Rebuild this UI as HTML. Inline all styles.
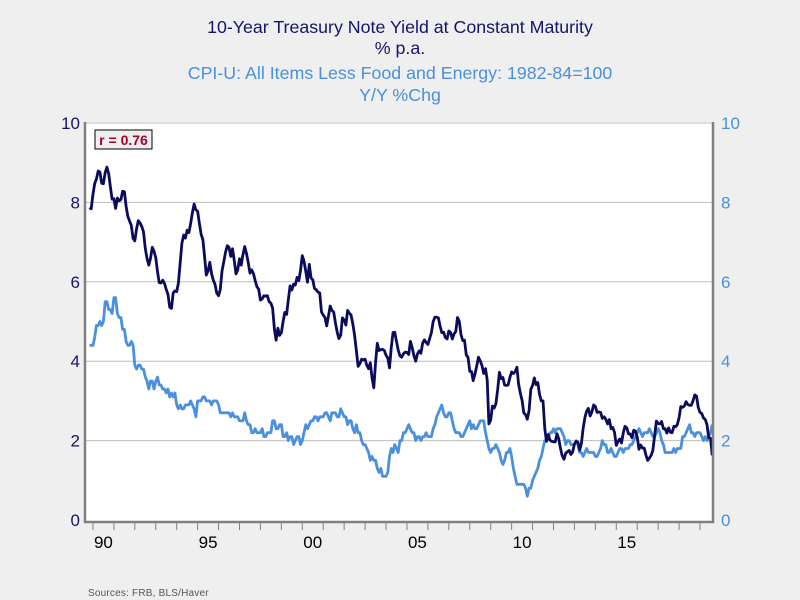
<!DOCTYPE html>
<html><head><meta charset="utf-8"><style>
body{margin:0;background:#efefef;}
svg{display:block;font-family:"Liberation Sans",sans-serif;}
</style></head><body>
<svg id="chart" width="800" height="600" viewBox="0 0 800 600">
<rect x="0" y="0" width="800" height="600" fill="#efefef"/>
<g text-anchor="middle" font-size="17.8">
<text x="400" y="33" fill="#14146b">10-Year Treasury Note Yield at Constant Maturity</text>
<text x="400" y="54" fill="#14146b">% p.a.</text>
<text x="400" y="79" fill="#4a90dc">CPI-U: All Items Less Food and Energy: 1982-84=100</text>
<text x="400" y="101" fill="#4a90dc">Y/Y %Chg</text>
</g>
<rect x="85" y="122" width="628" height="400" fill="#ffffff"/>
<g id="grid"></g>
<g id="lines"></g>
<g id="frame"></g>
<g id="axes"></g>
<g>
<rect x="95" y="130" width="57" height="19" fill="#efefef" stroke="#000" stroke-width="1"/>
<text x="123.5" y="145" text-anchor="middle" font-size="14" font-weight="bold" fill="#a3002b">r = 0.76</text>
</g>
<text x="88" y="596" font-size="10" fill="#555" letter-spacing="0.2">Sources:  FRB, BLS/Haver</text>
</svg>
<script>
const startYear = 1989 + 10/12; // Nov 1989 monthly
const treasury10y = [7.87,7.84,
8.21,8.47,8.59,8.79,8.76,8.48,8.47,8.75,8.89,8.72,8.39,8.08,
8.09,7.85,8.11,8.04,8.07,8.28,8.27,7.90,7.65,7.53,7.42,7.09,
7.03,7.34,7.54,7.48,7.39,7.26,6.84,6.59,6.42,6.59,6.87,6.77,
6.60,6.26,5.98,5.97,6.04,5.96,5.81,5.68,5.36,5.33,5.72,5.77,
5.75,5.97,6.48,6.97,7.18,7.10,7.30,7.24,7.46,7.74,7.96,7.81,
7.78,7.47,7.20,7.06,6.63,6.17,6.28,6.49,6.20,6.04,5.93,5.71,
5.65,5.81,6.27,6.51,6.74,6.91,6.87,6.64,6.83,6.53,6.20,6.30,
6.58,6.42,6.69,6.89,6.71,6.49,6.22,6.30,6.21,6.03,5.88,5.81,
5.54,5.57,5.65,5.64,5.65,5.50,5.46,5.34,4.81,4.53,4.83,4.65,
4.72,5.00,5.23,5.18,5.54,5.90,5.79,5.94,5.92,6.11,6.03,6.28,
6.66,6.52,6.26,5.99,6.44,6.10,6.05,5.83,5.80,5.74,5.72,5.24,
5.16,5.10,4.89,5.14,5.39,5.28,5.24,4.97,4.73,4.57,4.65,5.09,
5.04,4.91,5.28,5.21,5.16,4.93,4.65,4.26,3.87,3.94,4.05,4.03,
4.05,3.90,3.81,3.96,3.57,3.33,3.98,4.45,4.27,4.29,4.30,4.27,
4.15,4.08,3.83,4.35,4.72,4.73,4.50,4.28,4.13,4.10,4.19,4.23,
4.22,4.17,4.50,4.34,4.14,4.00,4.18,4.26,4.20,4.46,4.54,4.47,
4.42,4.57,4.72,4.99,5.11,5.11,5.09,4.88,4.72,4.73,4.60,4.56,
4.76,4.72,4.56,4.69,4.75,5.10,5.00,4.67,4.52,4.53,4.15,4.10,
3.74,3.74,3.51,3.68,3.88,4.10,4.01,3.89,3.69,3.81,3.53,2.42,
2.52,2.87,2.82,2.93,3.29,3.72,3.56,3.59,3.40,3.39,3.40,3.59,
3.73,3.69,3.73,3.85,3.42,3.20,3.01,2.70,2.65,2.54,2.76,3.29,
3.39,3.58,3.41,3.46,3.17,3.00,3.00,2.30,1.98,2.15,2.01,1.98,
1.97,1.97,2.17,2.05,1.80,1.62,1.53,1.68,1.72,1.75,1.65,1.72,
1.91,1.98,1.96,1.76,1.93,2.30,2.58,2.74,2.81,2.62,2.72,2.90,
2.86,2.71,2.72,2.71,2.56,2.60,2.54,2.42,2.53,2.30,2.33,2.21,
1.88,1.98,2.04,1.94,2.20,2.36,2.32,2.17,2.17,2.07,2.26,2.24,
2.09,1.78,1.89,1.81,1.81,1.64,1.50,1.56,1.63,1.76,2.14,2.49,
2.43,2.42,2.48,2.30,2.30,2.19,2.32,2.21,2.20,2.36,2.35,2.40,
2.58,2.86,2.84,2.87,2.98,2.91,2.89,2.89,3.00,3.15,3.12,2.83,
2.71,2.68,2.57,2.53,2.40,2.07,2.06,1.63];
const coreCpi = [4.4,4.4,
4.4,4.6,4.9,4.9,5.0,4.9,5.0,5.5,5.5,5.3,5.3,5.2,
5.6,5.6,5.2,5.1,5.1,4.8,4.8,4.5,4.4,4.4,4.5,4.4,
3.9,3.8,3.9,3.9,3.8,3.8,3.6,3.5,3.3,3.5,3.5,3.3,
3.5,3.6,3.4,3.4,3.3,3.3,3.2,3.3,3.1,3.2,3.1,3.2,
2.9,2.8,2.9,2.8,2.8,2.9,2.9,2.9,3.0,2.9,2.8,2.6,
3.0,3.0,3.0,3.1,3.1,3.0,3.0,3.0,2.9,3.0,3.0,3.0,
2.9,2.7,2.7,2.7,2.7,2.7,2.7,2.6,2.7,2.6,2.6,2.6,
2.5,2.5,2.5,2.7,2.5,2.4,2.4,2.2,2.2,2.3,2.2,2.2,
2.2,2.3,2.1,2.1,2.2,2.2,2.2,2.5,2.5,2.3,2.3,2.4,
2.4,2.1,2.1,2.2,2.0,2.1,2.1,1.9,2.0,2.1,2.1,1.9,
2.0,2.2,2.4,2.3,2.4,2.5,2.5,2.6,2.6,2.5,2.6,2.6,
2.6,2.7,2.7,2.6,2.5,2.7,2.7,2.7,2.6,2.6,2.8,2.7,
2.6,2.6,2.4,2.5,2.5,2.3,2.2,2.4,2.2,2.2,2.0,1.9,
1.9,1.8,1.7,1.5,1.6,1.5,1.5,1.3,1.2,1.3,1.1,1.1,
1.1,1.2,1.6,1.8,1.7,1.9,1.8,1.7,2.0,2.0,2.2,2.2,
2.3,2.4,2.3,2.2,2.2,2.0,2.1,2.1,2.0,2.1,2.1,2.2,
2.1,2.1,2.1,2.3,2.4,2.6,2.7,2.8,2.9,2.7,2.6,2.6,
2.7,2.7,2.5,2.3,2.2,2.2,2.2,2.1,2.1,2.2,2.3,2.4,
2.5,2.3,2.4,2.3,2.3,2.4,2.5,2.5,2.5,2.2,2.0,1.8,
1.7,1.8,1.8,1.9,1.8,1.7,1.5,1.4,1.5,1.7,1.7,1.8,
1.6,1.3,1.1,0.9,0.9,0.9,0.9,0.9,0.8,0.6,0.8,0.8,
1.0,1.1,1.2,1.3,1.5,1.6,1.8,2.0,2.0,2.1,2.2,2.2,
2.3,2.2,2.3,2.3,2.3,2.2,2.1,1.9,2.0,2.0,1.9,1.9,
1.9,2.0,1.9,1.7,1.7,1.6,1.7,1.8,1.7,1.7,1.7,1.7,
1.6,1.6,1.7,1.8,2.0,1.9,1.9,1.7,1.7,1.8,1.7,1.6,
1.6,1.7,1.8,1.8,1.7,1.8,1.8,1.8,1.9,1.9,2.0,2.1,
2.2,2.3,2.2,2.1,2.2,2.2,2.2,2.3,2.2,2.1,2.1,2.2,
2.3,2.2,2.0,1.9,1.7,1.7,1.7,1.7,1.7,1.8,1.7,1.8,
1.8,1.8,2.1,2.1,2.2,2.3,2.4,2.2,2.2,2.1,2.2,2.2,
2.2,2.1,2.0,2.1,2.0,2.1,2.2,2.4];
const yTicks = [0,2,4,6,8,10];
const yTickLabels = ["0","2","4","6","8","10"];
const xLabelYears = [1990,1995,2000,2005,2010,2015];
const xTickLabels = ["90","95","00","05","10","15"];

const NS='http://www.w3.org/2000/svg';
const L=85,R=713,T=122,B=522;
const x0=1989.62, x1=2019.62;
function xs(t){return L+(t-x0)/(x1-x0)*(R-L);}
function ys(v){return 520-v*39.7;}
function mk(tag,attrs,parent){const e=document.createElementNS(NS,tag);for(const k in attrs)e.setAttribute(k,attrs[k]);parent.appendChild(e);return e;}
const grid=document.getElementById('grid'),axes=document.getElementById('axes'),lines=document.getElementById('lines'),frame=document.getElementById('frame');
yTicks.forEach((v,i)=>{
  if(v>0){const g=mk('line',{x1:L,x2:R,y1:ys(v),y2:ys(v),stroke:'#bdbdbd','stroke-width':1},grid);
  
  }
  const t1=mk('text',{x:80,y:ys(v)+6,'text-anchor':'end','font-size':17,fill:'#14146b'},axes);
  t1.textContent=yTickLabels[i];
  
  
  const t2=mk('text',{x:721,y:ys(v)+6,'text-anchor':'start','font-size':17,fill:'#4a90dc'},axes);
  t2.textContent=yTickLabels[i];
  
  
});
for(let yr=1990;yr<=2019;yr++){
  const tx=xs(yr);
  const tk=mk('line',{x1:tx,x2:tx,y1:B+1,y2:B+8,stroke:'#808080','stroke-width':1},axes);
  
  
}
xLabelYears.forEach((yr,i)=>{
  const t=mk('text',{x:xs(yr+0.5),y:548,'text-anchor':'middle','font-size':17,fill:'#000'},axes);
  t.textContent=xTickLabels[i];
  
  
});
function path(arr){return arr.map((v,i)=>(i?'L':'M')+xs(startYear+i/12).toFixed(1)+','+ys(v).toFixed(1)).join('');}
mk('clipPath',{id:'clip'},lines);
mk('rect',{x:L,y:T,width:R-L,height:B-T},lines.lastChild);
const p2=mk('path',{d:path(coreCpi),fill:'none',stroke:'#4a90dc','stroke-width':2.8,'stroke-linejoin':'round','clip-path':'url(#clip)'},lines);


const p1=mk('path',{d:path(treasury10y),fill:'none',stroke:'#0b0b5e','stroke-width':2.8,'stroke-linejoin':'round','clip-path':'url(#clip)'},lines);


mk('path',{d:`M${L},${T}V${B}H${R}V${T}`,fill:'none',stroke:'#808080','stroke-width':2.5},frame);
</script>
</body></html>
